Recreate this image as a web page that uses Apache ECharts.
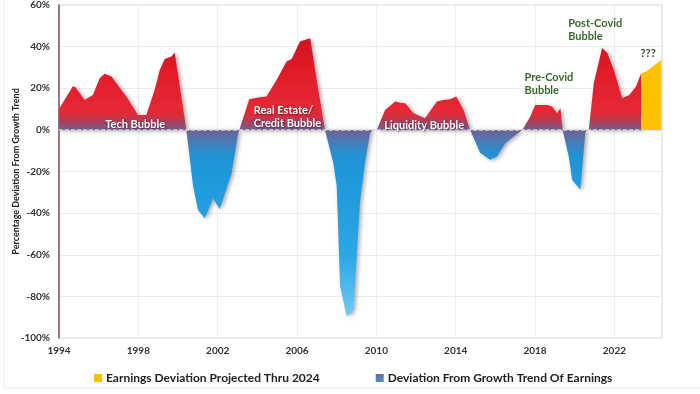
<!DOCTYPE html>
<html><head><meta charset="utf-8">
<script src="https://cdn.jsdelivr.net/npm/echarts@6/dist/echarts.min.js"></script>
<style>html,body{margin:0;padding:0;background:#fff}#c{width:700px;height:394px}</style>
</head><body><div id="c"></div>
<script>
// Deviation from growth trend of earnings (%)
const years = [
  1994.0, 1994.70, 1994.83, 1995.29, 1995.71, 1996.05, 1996.30, 1996.64, 1997.39, 1997.98, 1998.40, 1998.82, 1999.08, 1999.33, 1999.67, 1999.83, 2000.42,
  2000.51, 2000.76, 2001.01, 2001.35, 2001.77, 2002.10, 2002.70, 2003.03, 2003.09,
  2003.14, 2003.59, 2004.13, 2004.46, 2004.97, 2005.47, 2005.73, 2006.15, 2006.66, 2007.07, 2007.41,
  2007.45, 2007.83, 2008.00, 2008.17, 2008.51, 2008.84, 2009.17, 2009.42, 2009.68, 2009.85,
  2010.02, 2010.44, 2010.95, 2011.20, 2011.45, 2011.87, 2012.45, 2013.05, 2013.38, 2013.72, 2014.03, 2014.39, 2014.73,
  2014.82, 2015.23, 2015.73, 2016.08, 2016.50, 2017.25, 2017.36,
  2017.42, 2017.76, 2018.01, 2018.61, 2018.86, 2019.11, 2019.28, 2019.39,
  2019.44, 2019.70, 2019.87, 2020.28, 2020.53, 2020.59,
  2020.71, 2020.96, 2021.38, 2021.64, 2021.97, 2022.39, 2022.75, 2023.09, 2023.35
];
const deviation = [
  10, 21, 20.5, 14.4, 16.8, 24.8, 27, 25.6, 16, 7.2, 7.2, 19.2, 28.8, 34, 35.2, 37.2, 0,
  0, -27, -38.5, -42.5, -33, -38, -21, -1.6, 0,
  0, 14.7, 15.7, 16, 24, 32.8, 34, 42.5, 44, 19.2, 0,
  0, -16, -27, -75, -89.7, -86.5, -35, -16, -1.5, 0,
  0, 9.6, 13.6, 13, 12.8, 8, 5.6, 13.6, 14.4, 14.7, 16, 9.6, 0,
  0, -11, -14.4, -12.8, -6.4, -0.8, 0,
  0, 6.4, 12, 12, 11.2, 8, 10.4, 0,
  0, -12.8, -24, -28.8, -1.6, 0,
  0, 22.4, 39.3, 36.9, 28.8, 15.2, 16.8, 20.8, 27.2
];
// Projection through 2024
const projYears = [2023.35, 2023.6, 2024.36];
const projected = [27.2, 28, 33.6];
// Axis labels
const xLabelYears = [1994, 1998, 2002, 2006, 2010, 2014, 2018, 2022];
const yTicks = [-100, -80, -60, -40, -20, 0, 20, 40, 60];

const notes = [
  {text: 'Tech Bubble', x: 1997.84, y: 2.4, align: 'center', color: '#ffffff'},
  {text: 'Real Estate/\nCredit Bubble', x: 2003.82, y: 6.2, align: 'left', color: '#ffffff'},
  {text: 'Liquidity Bubble', x: 2012.41, y: 2, align: 'center', color: '#ffffff'},
  {text: 'Pre-Covid\nBubble', x: 2017.47, y: 22, align: 'left', color: '#3b6a2e'},
  {text: 'Post-Covid\nBubble', x: 2019.67, y: 48, align: 'left', color: '#3b6a2e'},
  {text: '???', x: 2023.7, y: 36.5, align: 'center', color: '#3a4638'}
];

const NAME_MAIN = 'Deviation From Growth Trend Of Earnings';
const NAME_PROJ = 'Earnings Deviation Projected Thru 2024';
const FONT = 'Lato, "Open Sans", sans-serif';

const chart = echarts.init(document.getElementById('c'));
const mainData = years.map((y, i) => [y, deviation[i]]);
const projData = projYears.map((y, i) => [y, projected[i]]);

const option = {
  animation: false,
  backgroundColor: '#ffffff',
  textStyle: {fontFamily: FONT},
  grid: {left: 59, right: 38, top: 5, bottom: 56, containLabel: false, outerBoundsMode: 'none',
         show: true, borderColor: '#d6d6d6', borderWidth: 1, backgroundColor: 'transparent'},
  xAxis: {
    type: 'value', min: 1994, max: 2024.4, interval: 2,
    axisLine: {show: false}, axisTick: {show: false}, splitLine: {show: false},
    axisLabel: {
      showMaxLabel: false, margin: 8, color: '#333', fontSize: 10, fontWeight: 'bold', fontFamily: FONT,
      formatter: v => xLabelYears.indexOf(Math.round(v)) >= 0 ? String(Math.round(v)) : ''
    }
  },
  yAxis: {
    type: 'value', min: yTicks[0], max: yTicks[yTicks.length - 1], interval: 20,
    name: 'Percentage Deviation From Growth Trend', nameLocation: 'middle', nameGap: 38, nameMoveOverlap: false,
    nameTextStyle: {color: '#222', fontSize: 9, fontWeight: 'bold', fontFamily: FONT},
    axisLine: {show: true, lineStyle: {color: '#7b5566', width: 1.5}},
    axisTick: {show: false},
    splitLine: {lineStyle: {color: '#ececec'}},
    axisLabel: {color: '#333', fontSize: 10, fontWeight: 'bold', margin: 9, fontFamily: FONT, formatter: '{value}%'}
  },
  legend: {
    left: 89, top: 367, itemGap: 56, itemWidth: 8, itemHeight: 8, icon: 'rect',
    textStyle: {fontSize: 12, fontWeight: 'bold', color: '#222', fontFamily: FONT, padding: [0, 0, 0, -1]},
    data: [
      {name: NAME_PROJ, itemStyle: {color: '#ffc000'}},
      {name: NAME_MAIN, itemStyle: {color: new echarts.graphic.LinearGradient(0, 0, 0, 1, [{offset: 0, color: '#7a6288'}, {offset: 1, color: '#3a9ad8'}])}}
    ]
  },
  series: [
    {
      name: 'grid', type: 'line', data: [], z: 1, silent: true,
      markLine: {
        silent: true, symbol: 'none', label: {show: false}, z: 1,
        lineStyle: {color: '#ececec', type: 'solid', width: 1},
        data: xLabelYears.slice(1).map(y => ({xAxis: y}))
      }
    },
    {
      name: NAME_MAIN, type: 'line', data: mainData, showSymbol: false, symbol: 'none',
      lineStyle: {width: 0, opacity: 0}, itemStyle: {color: '#3a9ad8'},
      areaStyle: {color: '#e0202a', opacity: 1, shadowColor: 'rgba(0,0,0,0.35)', shadowBlur: 4, shadowOffsetX: 2, shadowOffsetY: 1},
      z: 3
    },
    {
      name: NAME_PROJ, type: 'line', data: projData, showSymbol: false, symbol: 'none',
      lineStyle: {width: 0, opacity: 0}, itemStyle: {color: '#ffc000'},
      areaStyle: {color: '#ffc000', opacity: 1}, z: 3
    },
    {
      name: 'zero', type: 'line', data: [], z: 5,
      markLine: {
        silent: true, symbol: 'none', label: {show: false},
        lineStyle: {color: '#d8d4dc', type: [4, 2], width: 1.5},
        data: [[{coord: [1994, 0]}, {coord: [projYears[0], 0]}]]
      }
    }
  ]
};
chart.setOption(option);

const yTop = chart.convertToPixel({yAxisIndex: 0}, yTicks[yTicks.length - 1]);
const yBot = chart.convertToPixel({yAxisIndex: 0}, yTicks[0]);
const y0 = chart.convertToPixel({yAxisIndex: 0}, 0);
const f = p => (p - yTop) / (yBot - yTop);
const z = f(y0);
const grad = new echarts.graphic.LinearGradient(0, yTop, 0, yBot, [
  {offset: 0, color: '#c10d1a'},
  {offset: 0.2, color: '#e01c28'},
  {offset: z - 0.05, color: '#e42a36'},
  {offset: z - 0.022, color: '#a8405e'},
  {offset: z, color: '#6f6090'},
  {offset: z + 0.03, color: '#4d78b4'},
  {offset: z + 0.08, color: '#1e94d6'},
  {offset: 0.75, color: '#2aa6e6'},
  {offset: 1, color: '#8ad6fb'}
], true);

const graphics = notes.map(n => {
  const p = chart.convertToPixel({xAxisIndex: 0, yAxisIndex: 0}, [n.x, n.y]);
  const white = n.color === '#ffffff';
  return {
    type: 'text', x: p[0], y: p[1], z: 10, silent: true,
    style: {
      text: n.text, fill: n.color, font: 'bold 11px ' + FONT, align: n.align, verticalAlign: 'middle', lineHeight: 13.5,
      textShadowColor: white ? 'rgba(60,0,20,0.6)' : 'transparent', textShadowBlur: white ? 2 : 0, textShadowOffsetX: white ? 1 : 0, textShadowOffsetY: white ? 1 : 0
    }
  };
});
graphics.push({type: 'line', silent: true, z: 0, shape: {x1: 4, y1: 0, x2: 4, y2: 388}, style: {stroke: '#ececec', lineWidth: 1}});
graphics.push({type: 'line', silent: true, z: 0, shape: {x1: 4, y1: 388, x2: 700, y2: 388}, style: {stroke: '#ececec', lineWidth: 1}});

chart.setOption({series: [{name: NAME_MAIN, areaStyle: {color: grad}}], graphic: graphics});
</script>
</body></html>
